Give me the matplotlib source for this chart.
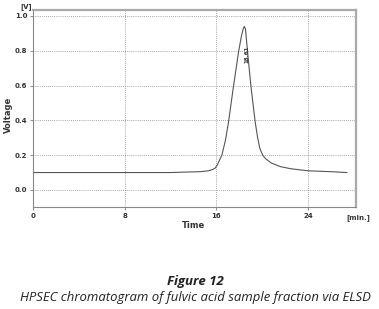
import matplotlib.pyplot as plt

# =========================
# DATA
# =========================
time_min = [0, 4, 8, 12, 14.6, 15.3, 15.7, 15.9, 16.1, 16.49, 16.8, 17.07, 17.5, 17.95, 18.2,
            18.35, 18.45, 18.55, 18.73, 19.03, 19.4, 19.6, 19.8, 20.05, 20.3, 20.8, 21.6,
            22.5, 24, 26, 27.4]
voltage = [0.10, 0.10, 0.10, 0.10, 0.105, 0.11, 0.118, 0.125, 0.145, 0.20, 0.285, 0.39, 0.594,
           0.795, 0.885, 0.925, 0.94, 0.925, 0.795, 0.594, 0.39, 0.305, 0.24, 0.20, 0.18,
           0.155, 0.134, 0.122, 0.11, 0.105, 0.10]

x_ticks = [0, 8, 16, 24]
y_ticks = [0.0, 0.2, 0.4, 0.6, 0.8, 1.0]
peak_label = "18.61"
peak_pos = 18.6

caption_title = "Figure 12"
caption_text = "HPSEC chromatogram of fulvic acid sample fraction via ELSD"

# =========================
# FIGURE
# =========================
fig = plt.figure(figsize=(3.79, 3.09), dpi=100)
ax = fig.add_axes([33 / 379, 1 - 207 / 309, 323 / 379, 197 / 309])

ax.plot(time_min, voltage, color="#555555", lw=0.8)
ax.set_xlim(0, 28.2)
ax.set_ylim(-0.098, 1.034)

ax.set_xticks(x_ticks)
ax.set_yticks(y_ticks)
ax.set_xticklabels([str(t) for t in x_ticks], fontsize=5, fontweight="bold", color="#333333")
ax.set_yticklabels(["%.1f" % v for v in y_ticks], fontsize=5, fontweight="bold", color="#333333")
ax.tick_params(length=2, width=0.6, color="#777777", pad=2)
ax.grid(True, ls=(0, (1, 1.5)), color="#888888", lw=0.6)

for side, sp in ax.spines.items():
    sp.set_color("#888888")
    sp.set_linewidth(0.8)
ax.spines["top"].set_linewidth(1.6)
ax.spines["right"].set_linewidth(1.6)
ax.spines["top"].set_color("#aaaaaa")
ax.spines["right"].set_color("#aaaaaa")

# peak annotation
ax.text(peak_pos + 0.05, 0.78, peak_label, rotation=90, fontsize=4, fontweight="bold",
        ha="center", va="center", color="#333333")

# axis texts
fig.text(20 / 379, 1 - 7 / 309, "[V]", fontsize=5, fontweight="bold", color="#333333",
         ha="left", va="center")
fig.text(8 / 379, 1 - 115 / 309, "Voltage", rotation=90, fontsize=6, fontweight="bold",
         color="#333333", ha="center", va="center")
fig.text(194 / 379, 1 - 225 / 309, "Time", fontsize=6, fontweight="bold", color="#333333",
         ha="center", va="center")
fig.text(358 / 379, 1 - 218 / 309, "[min.]", fontsize=5, fontweight="bold", color="#333333",
         ha="center", va="center")

# caption
fig.text(195.5 / 379, 1 - 281 / 309, caption_title, fontsize=9.5, fontweight="bold", style="italic",
         family="Open Sans", ha="center", va="center", color="#222222")
fig.text(195.5 / 379, 1 - 298 / 309, caption_text, fontsize=9.45, style="italic",
         family="Open Sans", ha="center", va="center", color="#222222")

fig.savefig("out.png", dpi=100)
